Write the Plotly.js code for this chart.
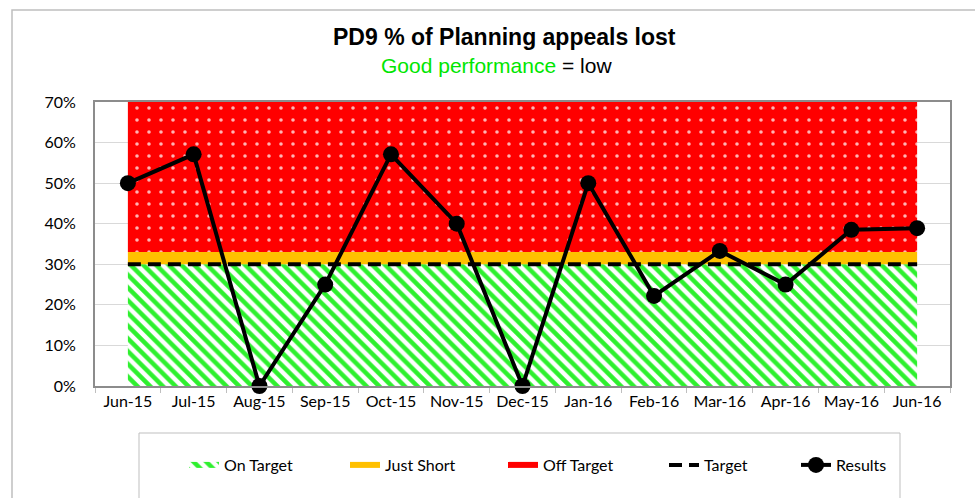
<!DOCTYPE html>
<html>
<head>
<meta charset="utf-8">
<script src="https://cdn.plot.ly/plotly-3.0.1.min.js"></script>
<style>html,body{margin:0;padding:0;background:#fff}#chart{width:975px;height:498px}</style>
</head>
<body>
<div id="chart"></div>
<script>
var months = ["Jun-15","Jul-15","Aug-15","Sep-15","Oct-15","Nov-15","Dec-15","Jan-16","Feb-16","Mar-16","Apr-16","May-16","Jun-16"];
var results = [50, 57.1, 0, 25, 57.1, 40, 0, 50, 22.2, 33.3, 25, 38.5, 38.9];
var targetVals = [30, 30, 30, 30, 30, 30, 30, 30, 30, 30, 30, 30, 30];
var onTarget = [30, 30, 30, 30, 30, 30, 30, 30, 30, 30, 30, 30, 30];
var justShort = [3, 3, 3, 3, 3, 3, 3, 3, 3, 3, 3, 3, 3];
var offTarget = [37, 37, 37, 37, 37, 37, 37, 37, 37, 37, 37, 37, 37];
var yTicks = [0, 10, 20, 30, 40, 50, 60, 70];

var L = 95, R = 950, T = 102, B = 386;
function px(x){ return (x - L) / (R - L); }
function py(y){ return (B - y) / (B - T); }

var legFont = {family: "Lato, 'Open Sans', sans-serif", size: 16, color: "#000"};

var traces = [
  {x: months, y: onTarget, name: "On Target", type: "scatter", mode: "none", stackgroup: "bands",
   fillcolor: "#ffffff", fillpattern: {shape: "\\", fgcolor: "#2ef02e", bgcolor: "#ffffff", size: 9, solidity: 0.5},
   legend: "legend", hoverinfo: "skip"},
  {x: months, y: justShort, name: "Just Short", type: "scatter", mode: "none", stackgroup: "bands",
   fillcolor: "#ffc000", legend: "legend2", hoverinfo: "skip"},
  {x: months, y: offTarget, name: "Off Target", type: "scatter", mode: "none", stackgroup: "bands",
   fillcolor: "#ff0000", fillpattern: {shape: ".", fgcolor: "#ffb4b4", bgcolor: "#ff0000", size: 12, solidity: 0.07},
   legend: "legend3", hoverinfo: "skip"},
  {x: months, y: targetVals, name: "Target", type: "scatter", mode: "lines",
   line: {color: "#000", width: 4, dash: "13px,7px"}, legend: "legend4"},
  {x: months, y: results, name: "Results", type: "scatter", mode: "lines+markers", cliponaxis: false,
   line: {color: "#000", width: 4}, marker: {color: "#000", size: 16}, legend: "legend5"}
];

function leg(xpx){
  return {orientation: "h", x: px(xpx), xanchor: "left", y: py(465), yanchor: "middle",
          font: legFont, bgcolor: "rgba(0,0,0,0)", itemwidth: 30, tracegroupgap: 0};
}

var layout = {
  width: 975, height: 498,
  margin: {l: L, r: 975 - R, t: T, b: 498 - B},
  paper_bgcolor: "#fff", plot_bgcolor: "#fff",
  showlegend: true,
  legend: leg(184), legend2: leg(345), legend3: leg(503), legend4: leg(664), legend5: leg(796),
  xaxis: {type: "category", range: [-0.5, 12.5], tickson: "boundaries", ticks: "outside", ticklen: 5,
          tickcolor: "#bfbfbf", showgrid: false, showline: true, linecolor: "#8c8c8c", linewidth: 2, mirror: true,
          tickfont: {family: "Lato, 'Open Sans', sans-serif", size: 16, color: "#000"}, fixedrange: true, zeroline: false},
  yaxis: {range: [0, 70], tickvals: yTicks, ticktext: yTicks.map(function(v){return v + "%";}),
          showgrid: true, gridcolor: "#d9d9d9", gridwidth: 1, showline: true, linecolor: "#8c8c8c", linewidth: 2, mirror: true,
          ticks: "", ticklabelstandoff: 14, zeroline: false,
          tickfont: {family: "Lato, 'Open Sans', sans-serif", size: 16, color: "#000"}, fixedrange: true},
  annotations: [
    {xref: "paper", yref: "paper", x: px(504), y: py(37), xanchor: "center", yanchor: "middle", showarrow: false,
     text: "<b>PD9 % of Planning appeals lost</b>", font: {family: "'Liberation Sans', Arial, sans-serif", size: 23, color: "#000"}},
    {xref: "paper", yref: "paper", x: px(496), y: py(66), xanchor: "center", yanchor: "middle", showarrow: false,
     text: "<span style='color:#00e600'>Good performance</span> = low", font: {family: "'Liberation Sans', Arial, sans-serif", size: 21, color: "#000"}}
  ],
  shapes: [
    {type: "rect", xref: "paper", yref: "paper", x0: px(12), x1: px(1000), y0: py(10), y1: py(520),
     line: {color: "#bfbfbf", width: 1.5}, fillcolor: "rgba(0,0,0,0)", layer: "below"},
    {type: "rect", xref: "paper", yref: "paper", x0: px(139), x1: px(900), y0: py(433), y1: py(520),
     line: {color: "#bfbfbf", width: 1}, fillcolor: "rgba(0,0,0,0)", layer: "below"}
  ]
};

Plotly.newPlot("chart", traces, layout, {displayModeBar: false, staticPlot: true});
</script>
</body>
</html>
